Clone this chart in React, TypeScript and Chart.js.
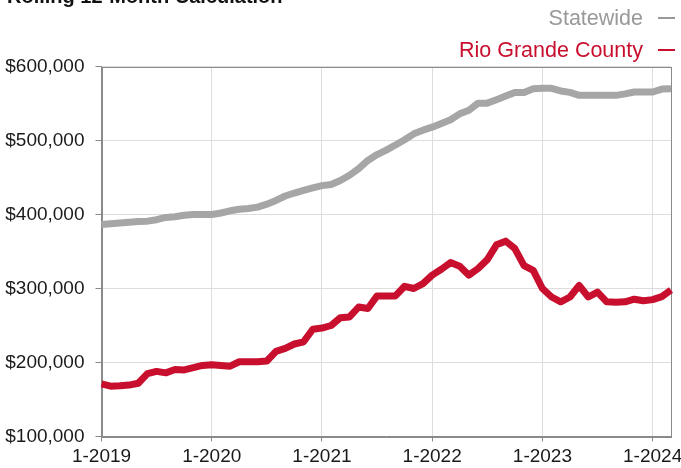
import React, { useEffect, useRef } from "react";
import { Chart, registerables } from "chart.js";

Chart.register(...registerables);

const months: string[] = [
  "1-2019","2-2019","3-2019","4-2019","5-2019","6-2019","7-2019","8-2019","9-2019","10-2019","11-2019","12-2019",
  "1-2020","2-2020","3-2020","4-2020","5-2020","6-2020","7-2020","8-2020","9-2020","10-2020","11-2020","12-2020",
  "1-2021","2-2021","3-2021","4-2021","5-2021","6-2021","7-2021","8-2021","9-2021","10-2021","11-2021","12-2021",
  "1-2022","2-2022","3-2022","4-2022","5-2022","6-2022","7-2022","8-2022","9-2022","10-2022","11-2022","12-2022",
  "1-2023","2-2023","3-2023","4-2023","5-2023","6-2023","7-2023","8-2023","9-2023","10-2023","11-2023","12-2023",
  "1-2024","2-2024","3-2024",
];

const statewide: number[] = [
  386500, 387500, 388500, 389500, 390500, 391000, 393000, 396000, 397000, 399000, 400000, 400000,
  400000, 402000, 405000, 407000, 408000, 410000, 414000, 419000, 425000, 429000, 432500, 436000,
  439000, 440500, 446000, 453000, 462000, 473000, 481000, 487000, 494000, 501000, 509000, 514000,
  518000, 523000, 528000, 536000, 541000, 550500, 550500, 555000, 560000, 565000, 565000, 570000,
  570500, 570500, 567000, 565000, 561000, 561000, 561000, 561000, 561000, 563000, 565500, 565500,
  565500, 569500, 570000,
];

const rioGrande: number[] = [
  171000, 168000, 168500, 169500, 172000, 185000, 188000, 186000, 190500, 190000, 193000, 196000,
  197000, 196000, 195000, 201000, 201000, 201000, 202000, 215000, 219000, 225000, 228000, 245000,
  246500, 250000, 260500, 261500, 275000, 273000, 290000, 290000, 290000, 303000, 300000, 306500,
  318000, 326000, 335000, 330000, 318000, 327000, 339000, 359000, 364000, 354000, 331000, 324500,
  300000, 288500, 282000, 288500, 304000, 288500, 295000, 282000, 281500, 282000, 285500, 283500,
  285000, 289000, 298000,
];

const seriesNames = ["Statewide", "Rio Grande County"];
const yTicks = { min: 100000, max: 600000, step: 100000 };
const titleText = "Rolling 12-Month Calculation";

const GRAY = "#a6a6a6";
const RED = "#c8102e";
const FONT = "'Liberation Sans', Arial, Helvetica, sans-serif";

const decorPlugin = {
  id: "decor",
  beforeDatasetsDraw(chart: any) {
    const { ctx, chartArea } = chart;
    ctx.save();
    ctx.strokeStyle = "#8a8a8a";
    ctx.lineWidth = 1;
    ctx.strokeRect(
      Math.round(chartArea.left) + 0.5,
      Math.round(chartArea.top) + 0.5,
      Math.round(chartArea.right - chartArea.left) - 1,
      Math.round(chartArea.bottom - chartArea.top)
    );
    ctx.restore();
  },
  afterDraw(chart: any) {
    const { ctx } = chart;
    ctx.save();
    ctx.fillStyle = "#111";
    ctx.font = `bold 20px ${FONT}`;
    ctx.textAlign = "left";
    ctx.textBaseline = "alphabetic";
    ctx.fillText(titleText, 7, 2.5);
    const items = [
      { name: seriesNames[0], color: "#999999", y: 25 },
      { name: seriesNames[1], color: RED, y: 57 },
    ];
    ctx.font = `21.5px ${FONT}`;
    ctx.textAlign = "right";
    items.forEach((it) => {
      ctx.fillStyle = it.color;
      ctx.fillText(it.name, 643, it.y);
      ctx.strokeStyle = it.color;
      ctx.lineWidth = 2;
      ctx.beginPath();
      ctx.moveTo(658, it.y - 7);
      ctx.lineTo(675, it.y - 7);
      ctx.stroke();
    });
    ctx.restore();
  },
};

export default function App() {
  const ref = useRef<HTMLCanvasElement | null>(null);

  useEffect(() => {
    document.body.style.margin = "0";
    const canvas = ref.current;
    if (!canvas) return;
    const chart = new Chart(canvas, {
      type: "line",
      data: {
        labels: months,
        datasets: [
          {
            label: seriesNames[0],
            data: statewide,
            borderColor: GRAY,
            backgroundColor: GRAY,
            borderWidth: 7,
            pointRadius: 0,
            tension: 0,
            borderJoinStyle: "round",
            borderCapStyle: "butt",
          },
          {
            label: seriesNames[1],
            data: rioGrande,
            borderColor: RED,
            backgroundColor: RED,
            borderWidth: 7,
            pointRadius: 0,
            tension: 0,
            borderJoinStyle: "round",
            borderCapStyle: "butt",
          },
        ],
      },
      options: {
        animation: false,
        responsive: false,
        maintainAspectRatio: false,
        layout: { padding: { top: 66.5, right: 10, left: 0, bottom: 0 } },
        plugins: {
          legend: { display: false },
          title: { display: false },
          tooltip: { enabled: false },
        },
        scales: {
          x: {
            type: "category",
            offset: false,
            grid: {
              color: (c: any) =>
                c.index > 0 && months[c.index] && months[c.index].startsWith("1-") ? "#dddddd" : "rgba(0,0,0,0)",
              tickColor: (c: any) =>
                months[c.index] && months[c.index].startsWith("1-") ? "#8a8a8a" : "rgba(0,0,0,0)",
              tickLength: 5,
              lineWidth: 1,
            },
            border: { color: "#8a8a8a", width: 1 },
            ticks: {
              autoSkip: false,
              maxRotation: 0,
              minRotation: 0,
              padding: 4,
              color: "#1a1a1a",
              font: { family: FONT, size: 19 },
              callback: (_v: any, i: number) => (months[i].startsWith("1-") ? months[i] : ""),
            },
            afterFit: (s: any) => {
              s.height = 31.5;
            },
          },
          y: {
            min: yTicks.min,
            max: yTicks.max,
            grid: {
              color: (c: any) => (c.index === 0 ? "rgba(0,0,0,0)" : "#dddddd"),
              tickColor: "#8a8a8a",
              tickLength: 6,
            },
            border: { color: "#8a8a8a", width: 1 },
            ticks: {
              stepSize: yTicks.step,
              padding: 11,
              color: "#1a1a1a",
              font: { family: FONT, size: 19 },
              callback: (v: any) => "$" + Number(v).toLocaleString("en-US"),
            },
            afterFit: (s: any) => {
              s.width = 101.5;
            },
          },
        },
      },
      plugins: [decorPlugin],
    });
    return () => chart.destroy();
  }, []);

  return (
    <div style={{ width: 681, height: 468 }}>
      <canvas ref={ref} width={681} height={468} style={{ display: "block" }} />
    </div>
  );
}
